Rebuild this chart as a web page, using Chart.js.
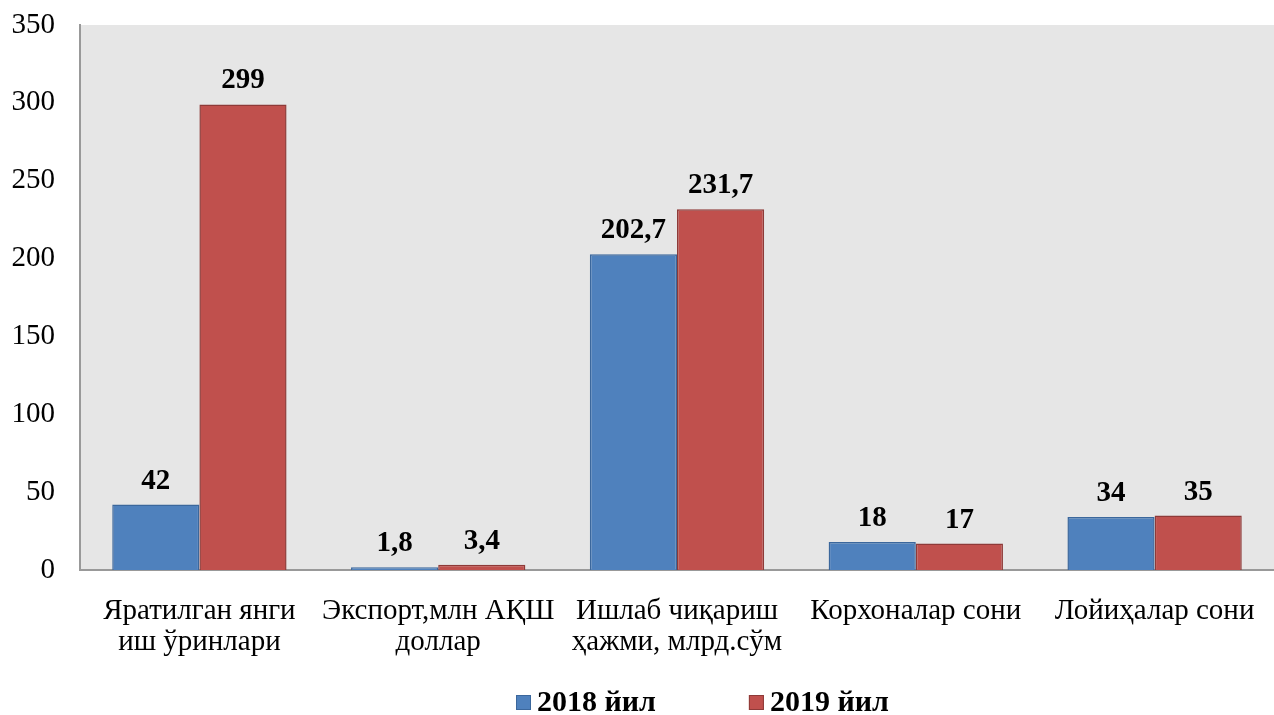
<!DOCTYPE html>
<html>
<head>
<meta charset="utf-8">
<script src="https://cdn.jsdelivr.net/npm/chart.js@4/dist/chart.umd.min.js"></script>
<style>
  html, body { margin: 0; padding: 0; background: #fff; }
  #wrap { width: 1274px; height: 715px; }
</style>
</head>
<body>
<div id="wrap"><canvas id="chart"></canvas></div>
<script>
// Маълумотлар
const categories = [
  ["Яратилган янги", "иш ўринлари"],
  ["Экспорт,млн АҚШ", "доллар"],
  ["Ишлаб чиқариш", "ҳажми, млрд.сўм"],
  "Корхоналар сони",
  "Лойиҳалар сони"
];
const values2018 = [42, 1.8, 202.7, 18, 34];
const values2019 = [299, 3.4, 231.7, 17, 35];
const seriesNames = ["2018 йил", "2019 йил"];
const yTicks = [0, 50, 100, 150, 200, 250, 300, 350];

const serif = "'Liberation Serif', 'Times New Roman', serif";

// Кулранг фон (plot area)
const plotBackground = {
  id: "plotBackground",
  beforeDraw(chart) {
    const { ctx, chartArea } = chart;
    ctx.save();
    ctx.fillStyle = "#e6e6e6";
    ctx.fillRect(chartArea.left, chartArea.top, chartArea.right - chartArea.left, chartArea.bottom - chartArea.top);
    ctx.restore();
  }
};

// Устунлар устидаги қийматлар
const valueLabels = {
  id: "valueLabels",
  afterDatasetsDraw(chart) {
    const { ctx } = chart;
    ctx.save();
    ctx.font = "bold 29px " + serif;
    ctx.fillStyle = "#000";
    ctx.textAlign = "center";
    ctx.textBaseline = "alphabetic";
    chart.data.datasets.forEach(function (ds, i) {
      chart.getDatasetMeta(i).data.forEach(function (bar, j) {
        const txt = String(ds.data[j]).replace(".", ",");
        ctx.fillText(txt, bar.x, bar.y - 16);
      });
    });
    ctx.restore();
  }
};

// Пастдаги легенда (қўлда чизилади)
const bottomLegend = {
  id: "bottomLegend",
  afterDraw(chart) {
    const { ctx, chartArea } = chart;
    ctx.save();
    ctx.font = "bold 30px " + serif;
    ctx.textBaseline = "middle";
    ctx.textAlign = "left";
    let x = chartArea.left + 436;
    const yMid = 703;
    chart.data.datasets.forEach(function (ds) {
      ctx.fillStyle = ds.backgroundColor;
      ctx.fillRect(x, yMid - 8, 15, 15);
      ctx.strokeStyle = ds.borderColor;
      ctx.lineWidth = 1;
      ctx.strokeRect(x + 0.5, yMid - 7.5, 14, 14);
      ctx.fillStyle = "#000";
      ctx.fillText(ds.label, x + 21, yMid);
      x += 21 + ctx.measureText(ds.label).width + 93;
    });
    ctx.restore();
  }
};

new Chart(document.getElementById("chart"), {
  type: "bar",
  data: {
    labels: categories,
    datasets: [
      {
        label: seriesNames[0],
        data: values2018,
        backgroundColor: "#4f81bd",
        borderColor: "#3b679c",
        borderWidth: 1.5
      },
      {
        label: seriesNames[1],
        data: values2019,
        backgroundColor: "#c0504d",
        borderColor: "#8e3a38",
        borderWidth: 1.5
      }
    ]
  },
  options: {
    responsive: true,
    maintainAspectRatio: false,
    animation: false,
    layout: { padding: { top: 25, right: 0, left: 0, bottom: 0 } },
    datasets: { bar: { categoryPercentage: 0.73, barPercentage: 1.0 } },
    plugins: {
      tooltip: { enabled: false },
      legend: { display: false }
    },
    scales: {
      x: {
        grid: { display: false },
        border: { display: true, color: "#999", width: 2 },
        ticks: {
          color: "#000",
          font: { family: serif, size: 29, lineHeight: 1.1 },
          padding: 17,
          maxRotation: 0,
          autoSkip: false
        },
        afterFit(scale) {
          scale.height = 145;
          scale.paddingLeft = 0;
          scale.paddingRight = 0;
        }
      },
      y: {
        min: 0,
        max: 350,
        afterBuildTicks(scale) { scale.ticks = yTicks.map(function (v) { return { value: v }; }); },
        grid: { display: false },
        border: { display: true, color: "#999", width: 2 },
        ticks: {
          color: "#000",
          font: { family: serif, size: 29 },
          padding: 17
        },
        afterFit(scale) {
          scale.width = 80;
          scale.paddingTop = 0;
          scale.paddingBottom = 0;
        }
      }
    }
  },
  plugins: [plotBackground, valueLabels, bottomLegend]
});
</script>
</body>
</html>
